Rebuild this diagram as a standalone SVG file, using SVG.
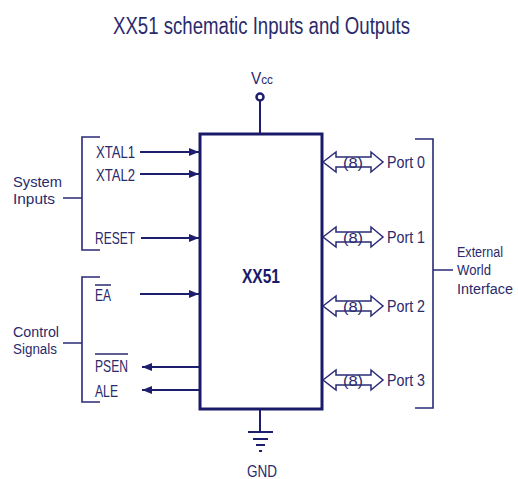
<svg xmlns="http://www.w3.org/2000/svg" width="518" height="479" viewBox="0 0 518 479">
<defs>
<style>
text{font-family:"Liberation Sans",Arial,sans-serif;fill:#2a2a6c;}
.lbl{font-size:17px;}
.ml{font-size:15.5px;}
.ttl{font-size:23px;}
.ln{stroke:#1e1e6e;stroke-width:2;fill:none;}
.br{stroke:#2a2a78;stroke-width:1.6;fill:none;}
.box{stroke:#1a1a6a;stroke-width:3;fill:#fff;}
.port{stroke:#2a2a78;stroke-width:1.5;fill:#fff;stroke-linejoin:miter;}
.p8{font-size:14px;}
</style>
<marker id="ah" viewBox="0 0 10 8" refX="10" refY="4" markerWidth="5" markerHeight="4" orient="auto" markerUnits="strokeWidth">
<path d="M0,0 L10,4 L0,8 Z" fill="#1e1e6e"/>
</marker>
</defs>
<rect width="518" height="479" fill="#fff"/>
<text class="ttl" x="113" y="34" textLength="297" lengthAdjust="spacingAndGlyphs">XX51 schematic Inputs and Outputs</text>

<g id="connectors">
<line class="ln" x1="260" y1="101" x2="260" y2="134"/>
<line class="ln" x1="260" y1="409" x2="260" y2="432"/>
<line class="ln" x1="140" y1="152" x2="199" y2="152" marker-end="url(#ah)"/>
<line class="ln" x1="140" y1="174" x2="199" y2="174" marker-end="url(#ah)"/>
<line class="ln" x1="141" y1="238" x2="199" y2="238" marker-end="url(#ah)"/>
<line class="ln" x1="140" y1="294" x2="199" y2="294" marker-end="url(#ah)"/>
<line class="ln" x1="200" y1="367" x2="142" y2="367" marker-end="url(#ah)"/>
<line class="ln" x1="200" y1="390" x2="142" y2="390" marker-end="url(#ah)"/>
</g>

<g id="xx51">
<rect class="box" x="200" y="134" width="122" height="275"/>
<text x="242" y="283" font-size="21" font-weight="bold" textLength="38" lengthAdjust="spacingAndGlyphs" style="fill:#1a1a6a">XX51</text>
</g>

<g id="vcc">
<circle cx="260" cy="97" r="3.5" fill="#fff" stroke="#1e1e6e" stroke-width="2.5"/>
<text x="251" y="84" font-size="17" textLength="22" lengthAdjust="spacingAndGlyphs">V<tspan font-size="13">cc</tspan></text>
</g>

<g id="gnd">
<line class="ln" x1="248" y1="432" x2="273" y2="432" stroke-width="3"/>
<line class="ln" x1="253" y1="439" x2="268" y2="439" stroke-width="3"/>
<line class="ln" x1="256" y1="445" x2="265" y2="445" stroke-width="3"/>
<line class="ln" x1="259" y1="451" x2="262" y2="451" stroke-width="3"/>
<text x="247" y="477" font-size="16" textLength="30" lengthAdjust="spacingAndGlyphs">GND</text>
</g>

<g id="system-inputs">
<path class="br" d="M100,137 H82 V250 H100 M63,198 H82"/>
<text class="ml" x="13" y="187" textLength="49" lengthAdjust="spacingAndGlyphs">System</text>
<text class="ml" x="13" y="204" textLength="42" lengthAdjust="spacingAndGlyphs">Inputs</text>
<text class="lbl" x="96" y="158" textLength="39" lengthAdjust="spacingAndGlyphs">XTAL1</text>
<text class="lbl" x="96" y="181" textLength="39" lengthAdjust="spacingAndGlyphs">XTAL2</text>
<text class="lbl" x="95" y="244" textLength="40" lengthAdjust="spacingAndGlyphs">RESET</text>
</g>

<g id="control-signals">
<path class="br" d="M100,277 H82 V402 H100 M63,343 H82"/>
<text class="ml" x="13" y="337" textLength="46" lengthAdjust="spacingAndGlyphs">Control</text>
<text class="ml" x="13" y="354" textLength="44" lengthAdjust="spacingAndGlyphs">Signals</text>
<text class="lbl" x="95" y="301" textLength="16" lengthAdjust="spacingAndGlyphs">EA</text>
<line x1="95" y1="285" x2="111" y2="285" stroke="#2a2a6c" stroke-width="1.5"/>
<text class="lbl" x="95" y="372" textLength="33" lengthAdjust="spacingAndGlyphs">PSEN</text>
<line x1="95" y1="354" x2="128" y2="354" stroke="#2a2a6c" stroke-width="1.5"/>
<text class="lbl" x="95" y="397" textLength="23" lengthAdjust="spacingAndGlyphs">ALE</text>
</g>

<g id="port0">
<polygon class="port" points="323,162 336,152 336,157 371,157 371,152 383,162 371,172 371,167 336,167 336,172"/>
<text class="p8" x="343" y="168" textLength="20" lengthAdjust="spacingAndGlyphs">(8)</text>
<text class="lbl" x="387" y="168" textLength="38" lengthAdjust="spacingAndGlyphs">Port 0</text>
</g>
<g id="port1">
<polygon class="port" points="323,237 336,227 336,232 371,232 371,227 383,237 371,247 371,242 336,242 336,247"/>
<text class="p8" x="343" y="243" textLength="20" lengthAdjust="spacingAndGlyphs">(8)</text>
<text class="lbl" x="387" y="243" textLength="38" lengthAdjust="spacingAndGlyphs">Port 1</text>
</g>
<g id="port2">
<polygon class="port" points="323,306 336,296 336,301 371,301 371,296 383,306 371,316 371,311 336,311 336,316"/>
<text class="p8" x="343" y="312" textLength="20" lengthAdjust="spacingAndGlyphs">(8)</text>
<text class="lbl" x="387" y="312" textLength="38" lengthAdjust="spacingAndGlyphs">Port 2</text>
</g>
<g id="port3">
<polygon class="port" points="323,380 336,370 336,375 371,375 371,370 383,380 371,390 371,385 336,385 336,390"/>
<text class="p8" x="343" y="386" textLength="20" lengthAdjust="spacingAndGlyphs">(8)</text>
<text class="lbl" x="387" y="386" textLength="38" lengthAdjust="spacingAndGlyphs">Port 3</text>
</g>

<g id="external-world">
<path class="br" d="M415,139 H433 V408 H415 M433,270 H453"/>
<text class="ml" x="457" y="257" textLength="46" lengthAdjust="spacingAndGlyphs">External</text>
<text class="ml" x="457" y="275" textLength="34" lengthAdjust="spacingAndGlyphs">World</text>
<text class="ml" x="457" y="294" textLength="56" lengthAdjust="spacingAndGlyphs">Interface</text>
</g>
</svg>
